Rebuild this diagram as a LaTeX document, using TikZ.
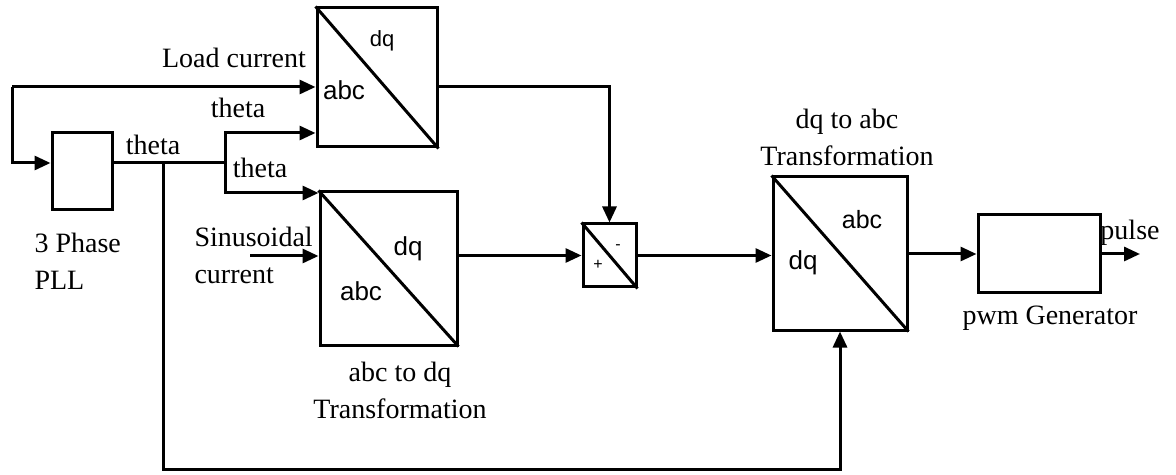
\documentclass[tikz,border=0pt]{standalone}
\usepackage{fontspec}
\setmainfont{Liberation Serif}
\setsansfont{Liberation Sans}
\usetikzlibrary{arrows.meta,positioning}

\begin{document}
\begin{tikzpicture}[
    x=0.5pt, y=-0.5pt,
    line width=1.5pt,
    block/.style={rectangle, draw, line width=1.5pt, inner sep=0pt},
    conv/.style={block, minimum width=67pt, minimum height=76.5pt},
    label/.style={inner sep=0pt, font=\fontsize{14}{18.5}\selectfont},
    tag/.style={inner sep=0pt, anchor=base, font=\sffamily\fontsize{13}{15}\selectfont},
    sign/.style={inner sep=0pt, font=\sffamily\fontsize{8}{9}\selectfont},
    arrow/.style={line width=1.5pt,-{Triangle[length=8pt,width=7pt]}}
]

\useasboundingbox (0,0) rectangle (1176,475);

% Blocks
\node (pll) [block, minimum width=30pt, minimum height=38.5pt] at (82,171.5) {};
\node (abcdqL) [conv, minimum width=60pt, minimum height=69.5pt] at (377,77.5) {};
\node (abcdqS) [conv, minimum width=68.5pt] at (388.5,268.5) {};
\node (sum) [block, minimum width=26.5pt, minimum height=31.5pt] at (609.5,255.5) {};
\node (dqabc) [conv] at (840,253.5) {};
\node (pwm) [block, minimum width=61pt, minimum height=39pt] at (1039,254) {};

% Diagonals
\foreach \b in {abcdqL,abcdqS,sum,dqabc}
  \draw (\b.north west) -- (\b.south east);

% Tags inside the blocks
\node [tag, font=\sffamily\fontsize{11}{13}\selectfont] at (382,47) {dq};
\node [tag] at (344,100) {abc};
\node [tag] at (408,256) {dq};
\node [tag] at (361,300) {abc};
\node [tag, font=\sffamily\fontsize{12.5}{15}\selectfont] at (862,229) {abc};
\node [tag] at (803,270) {dq};
\node [sign] at (618,247) {-};
\node [sign] at (598,265) {+};

% Points on the wires
\coordinate (loop) at (12,87);
\coordinate (j1) at (163,163);
\coordinate (j2) at (225,163);
\coordinate (t1) at (225,133);
\coordinate (t2) at (225,193);
\coordinate (bot) at (163,469);
\coordinate (sin) at (250,256);
\coordinate (out) at (1140,254);

% Connectors
\draw [arrow] (loop) -- (loop -| abcdqL.west);
\draw [arrow] (loop) |- (pll.west |- j1);
\draw (pll.east |- j1) -- (j2);
\draw [arrow] (j2) -- (t1) -- (t1 -| abcdqL.west);
\draw [arrow] (j2) -- (t2) -- (t2 -| abcdqS.west);
\draw [arrow] (j1) -- (bot) -| (dqabc.south);
\draw [arrow] (sin) -- (sin -| abcdqS.west);
\draw [arrow] (loop -| abcdqL.east) -| (sum.north);
\draw [arrow] (sum.west -| abcdqS.east) -- (sum.west);
\draw [arrow] (sum.east) -- (sum.east -| dqabc.west);
\draw [arrow] (pwm.west -| dqabc.east) -- (pwm.west);
\draw [arrow] (pwm.east) -- (out);

% Labels
\node [label, anchor=base] at (234,68) {Load current};
\node [label, anchor=base] at (238,118) {theta};
\node [label, anchor=base] at (153,155) {theta};
\node [label, anchor=base] at (260,178) {theta};
\node [label, align=left, anchor=west] at (193,255) {Sinusoidal\\current};
\node [label, align=left, anchor=west] at (33,261) {3 Phase\\PLL};
\node [label, align=center] at (400,390) {abc to dq\\Transformation};
\node [label, align=center] at (847,137) {dq to abc\\Transformation};
\node [label, anchor=base] at (1050,325) {pwm Generator};
\node [label, anchor=base] at (1130,240) {pulse};

\end{tikzpicture}
\end{document}
